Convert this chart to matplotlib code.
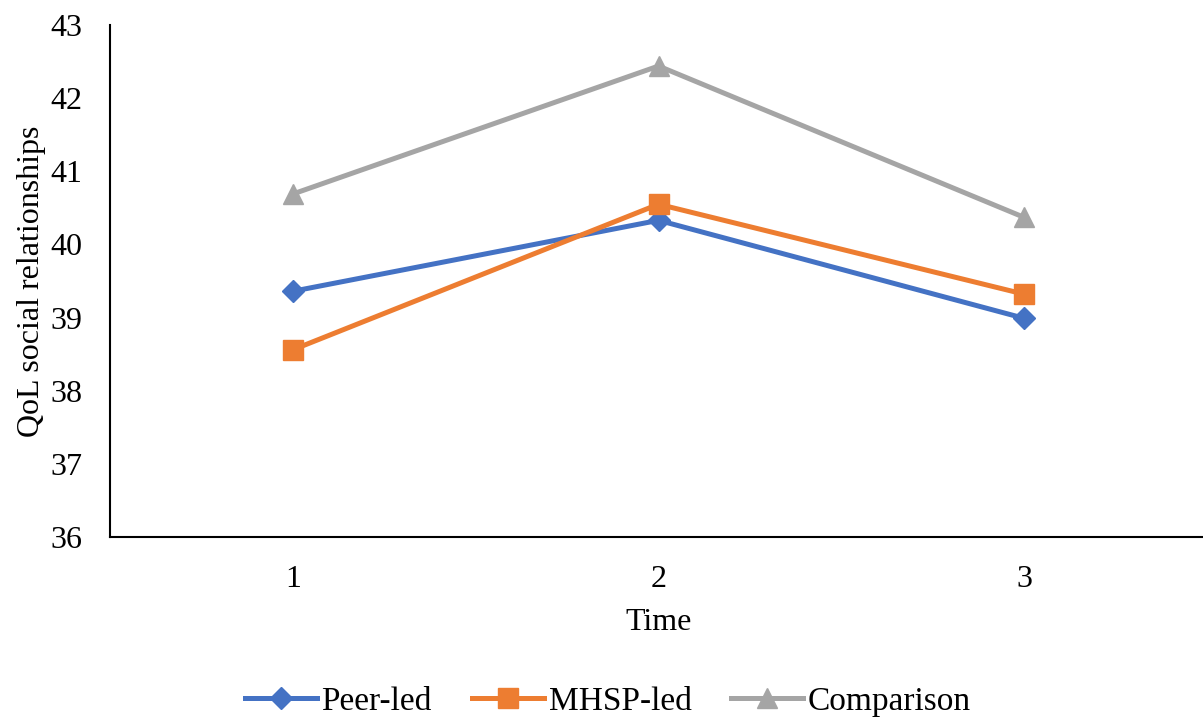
import matplotlib.pyplot as plt
import matplotlib

matplotlib.rcParams['font.family'] = ['Liberation Serif', 'DejaVu Serif']

times = [1, 2, 3]
peer_led = [39.36, 40.33, 38.99]
mhsp_led = [38.56, 40.55, 39.32]
comparison = [40.69, 42.44, 40.37]
y_ticks = [36, 37, 38, 39, 40, 41, 42, 43]

fig = plt.figure(figsize=(12.03, 7.23), dpi=100)
ax = fig.add_axes([0.0914, 0.2573, 0.912, 0.708])

ax.plot(times, peer_led, color='#4472C4', lw=3.6, marker='D', ms=11, label='Peer-led')
ax.plot(times, mhsp_led, color='#ED7D31', lw=3.6, marker='s', ms=14, label='MHSP-led')
ax.plot(times, comparison, color='#A5A5A5', lw=3.6, marker='^', ms=15, label='Comparison')

ax.set_xlim(0.5, 3.5)
ax.set_ylim(36, 43)
ax.set_xticks(times)
ax.set_yticks(y_ticks)
ax.tick_params(length=0, labelsize=23)
ax.tick_params(axis='y', pad=20)
ax.tick_params(axis='x', pad=20)

for s in ['top', 'right']:
    ax.spines[s].set_visible(False)
for s in ['left', 'bottom']:
    ax.spines[s].set_linewidth(1.5)

ax.set_xlabel('Time', fontsize=23, labelpad=10)
ax.set_ylabel('QoL social relationships', fontsize=23, labelpad=3)

ax.legend(loc='center', bbox_to_anchor=(0.454, -0.322), ncol=3,
          frameon=False, fontsize=24, handlelength=2.15, columnspacing=1.2,
          handletextpad=0.15, borderaxespad=0)

plt.savefig('out.png', dpi=100)
plt.close()
